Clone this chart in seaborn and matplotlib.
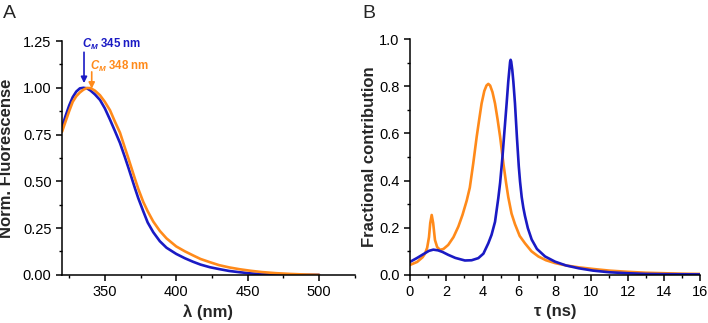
import numpy as np
import pandas as pd
import matplotlib
matplotlib.use("Agg")
import matplotlib.pyplot as plt
import seaborn as sns
from matplotlib.ticker import MultipleLocator, FormatStrFormatter

# ---------------- data ----------------
wavelength = [320, 322.5, 325, 327.5, 330, 332.5, 335, 337.5, 340, 343, 346.6, 350,
              353.6, 357, 360.6, 364, 366.4, 368.7, 371, 373.4, 376.9, 380, 383.9,
              388.5, 393.2, 400, 406, 411.8, 417, 423.5, 430, 437, 444.5, 452, 460,
              470, 480, 490, 500]
fluor_blue = [0.79, 0.85, 0.905, 0.95, 0.98, 0.997, 1.0, 0.997, 0.985, 0.965, 0.935, 0.89,
              0.83, 0.77, 0.705, 0.63, 0.575, 0.52, 0.465, 0.41, 0.34, 0.28, 0.228,
              0.18, 0.145, 0.112, 0.089, 0.07, 0.055, 0.041, 0.031, 0.021, 0.014, 0.008, 0.004,
              0.002, 0.001, 0.0, 0.0]
fluor_orange = [0.765, 0.82, 0.875, 0.925, 0.955, 0.975, 0.99, 0.999, 0.998, 0.985, 0.96, 0.925,
                0.88, 0.82, 0.76, 0.68, 0.625, 0.57, 0.515, 0.46, 0.39, 0.34, 0.285,
                0.235, 0.195, 0.152, 0.126, 0.104, 0.085, 0.068, 0.052, 0.04, 0.03, 0.022, 0.015,
                0.009, 0.005, 0.002, 0.0]

tau_blue = [0, 0.4, 0.83, 1.05, 1.29, 1.55, 1.8, 2.11, 2.5, 3.03, 3.4, 3.77, 4.05, 4.32,
            4.5, 4.69, 4.87, 4.97, 5.1, 5.2, 5.33, 5.42, 5.48, 5.52, 5.55, 5.58, 5.64,
            5.7, 5.79, 5.9, 6.0, 6.07, 6.16, 6.25, 6.34, 6.5, 6.71, 7.0, 7.45, 8.0, 8.6, 9.3,
            10.1, 11, 12, 13, 14, 16]
frac_blue = [0.055, 0.072, 0.092, 0.102, 0.107, 0.104, 0.097, 0.085, 0.072, 0.061, 0.062,
             0.071, 0.09, 0.134, 0.17, 0.225, 0.325, 0.39, 0.5, 0.6, 0.727, 0.82, 0.87,
             0.903, 0.912, 0.905, 0.87, 0.82, 0.727, 0.58, 0.46, 0.395, 0.33, 0.285, 0.25,
             0.198, 0.15, 0.11, 0.078, 0.056, 0.04, 0.028, 0.018, 0.011, 0.007, 0.004, 0.003, 0.002]

tau_orange = [0, 0.4, 0.7, 0.83, 0.95, 1.05, 1.12, 1.2, 1.28, 1.38, 1.5, 1.66, 1.85, 2.11,
              2.4, 2.67, 2.9, 3.13, 3.3, 3.49, 3.68, 3.82, 3.95, 4.1, 4.22, 4.32, 4.42,
              4.55, 4.69, 4.83, 4.97, 5.15, 5.3, 5.42, 5.6, 5.79, 6.05, 6.34, 6.7, 7.08,
              7.5, 8.0, 8.6, 9.3, 10.1, 11, 12, 13, 14, 15, 16]
frac_orange = [0.042, 0.055, 0.075, 0.09, 0.115, 0.16, 0.22, 0.254, 0.22, 0.148, 0.118,
               0.106, 0.11, 0.127, 0.16, 0.205, 0.255, 0.315, 0.37, 0.473, 0.586, 0.66,
               0.727, 0.78, 0.803, 0.81, 0.803, 0.775, 0.727, 0.66, 0.586, 0.473, 0.39,
               0.33, 0.26, 0.215, 0.165, 0.134, 0.1, 0.078, 0.062, 0.05, 0.04, 0.032,
               0.025, 0.018, 0.013, 0.009, 0.007, 0.005, 0.004]

BLUE = "#1A1AC4"
ORANGE = "#FF8A1A"

# ---------------- style ----------------
sns.set_theme(style="ticks")
plt.rcParams["font.family"] = ["Liberation Sans", "DejaVu Sans"]
plt.rcParams["mathtext.fontset"] = "custom"
plt.rcParams["mathtext.it"] = "Liberation Sans:italic:bold"
plt.rcParams["mathtext.rm"] = "Liberation Sans:bold"
plt.rcParams["mathtext.bf"] = "Liberation Sans:bold"

fig = plt.figure(figsize=(7.08, 3.23), dpi=100)
ax1 = fig.add_axes([0.0876, 0.149, 0.4134, 0.724])
ax2 = fig.add_axes([0.579, 0.149, 0.410, 0.730])

dfA = pd.DataFrame({"wl": wavelength, "blue": fluor_blue, "orange": fluor_orange})
sns.lineplot(data=dfA, x="wl", y="blue", ax=ax1, color=BLUE, lw=1.9, sort=False)
sns.lineplot(data=dfA, x="wl", y="orange", ax=ax1, color=ORANGE, lw=1.9, sort=False)

dfB1 = pd.DataFrame({"tau": tau_blue, "frac": frac_blue})
dfB2 = pd.DataFrame({"tau": tau_orange, "frac": frac_orange})
sns.lineplot(data=dfB2, x="tau", y="frac", ax=ax2, color=ORANGE, lw=1.9, sort=False)
sns.lineplot(data=dfB1, x="tau", y="frac", ax=ax2, color=BLUE, lw=1.9, sort=False)

# axes A
ax1.set_xlim(320, 525)
ax1.set_ylim(0, 1.25)
ax1.xaxis.set_major_locator(MultipleLocator(50))
ax1.xaxis.set_minor_locator(MultipleLocator(25))
ax1.yaxis.set_major_locator(MultipleLocator(0.25))
ax1.yaxis.set_minor_locator(MultipleLocator(0.125))
ax1.yaxis.set_major_formatter(FormatStrFormatter("%.2f"))
ax1.set_xlabel("λ (nm)", fontsize=12, fontweight="bold")
ax1.set_ylabel("Norm. Fluorescense", fontsize=12, fontweight="bold")
ax1.xaxis.set_label_coords(0.5, -0.125)
ax1.yaxis.set_label_coords(-0.165, 0.5)

# axes B
ax2.set_xlim(0, 16)
ax2.set_ylim(0, 1.0)
ax2.xaxis.set_major_locator(MultipleLocator(2))
ax2.xaxis.set_minor_locator(MultipleLocator(1))
ax2.yaxis.set_major_locator(MultipleLocator(0.2))
ax2.yaxis.set_minor_locator(MultipleLocator(0.1))
ax2.yaxis.set_major_formatter(FormatStrFormatter("%.1f"))
ax2.set_xlabel("τ (ns)", fontsize=12, fontweight="bold")
ax2.set_ylabel("Fractional contribution", fontsize=12, fontweight="bold")
ax2.xaxis.set_label_coords(0.5, -0.125)
ax2.yaxis.set_label_coords(-0.115, 0.5)

for ax in (ax1, ax2):
    sns.despine(ax=ax)
    for s in ("left", "bottom"):
        ax.spines[s].set_linewidth(1.1)
        ax.spines[s].set_color("black")
    ax.tick_params(which="major", direction="out", length=4.5, width=1.1,
                   labelsize=10.5, colors="black", pad=3)
    ax.tick_params(which="minor", direction="out", length=2.5, width=1.0, colors="black")

# annotations
ax1.annotate("", xy=(335.4, 1.025), xytext=(335.4, 1.19),
             arrowprops=dict(arrowstyle="-|>", color=BLUE, lw=1.2,
                             mutation_scale=9, shrinkA=0, shrinkB=0))
ax1.text(334.3, 1.213, r"$C_M$ 345 nm", color=BLUE, fontsize=8.3, fontweight="bold",
         ha="left", va="baseline")
ax1.annotate("", xy=(340.8, 0.995), xytext=(340.8, 1.085),
             arrowprops=dict(arrowstyle="-|>", color=ORANGE, lw=1.2,
                             mutation_scale=9, shrinkA=0, shrinkB=0))
ax1.text(339.4, 1.097, r"$C_M$ 348 nm", color=ORANGE, fontsize=8.3, fontweight="bold",
         ha="left", va="baseline")

fig.text(0.004, 0.944, "A", fontsize=14, va="baseline", ha="left")
fig.text(0.512, 0.944, "B", fontsize=14, va="baseline", ha="left")

fig.savefig("out.png", dpi=100)
